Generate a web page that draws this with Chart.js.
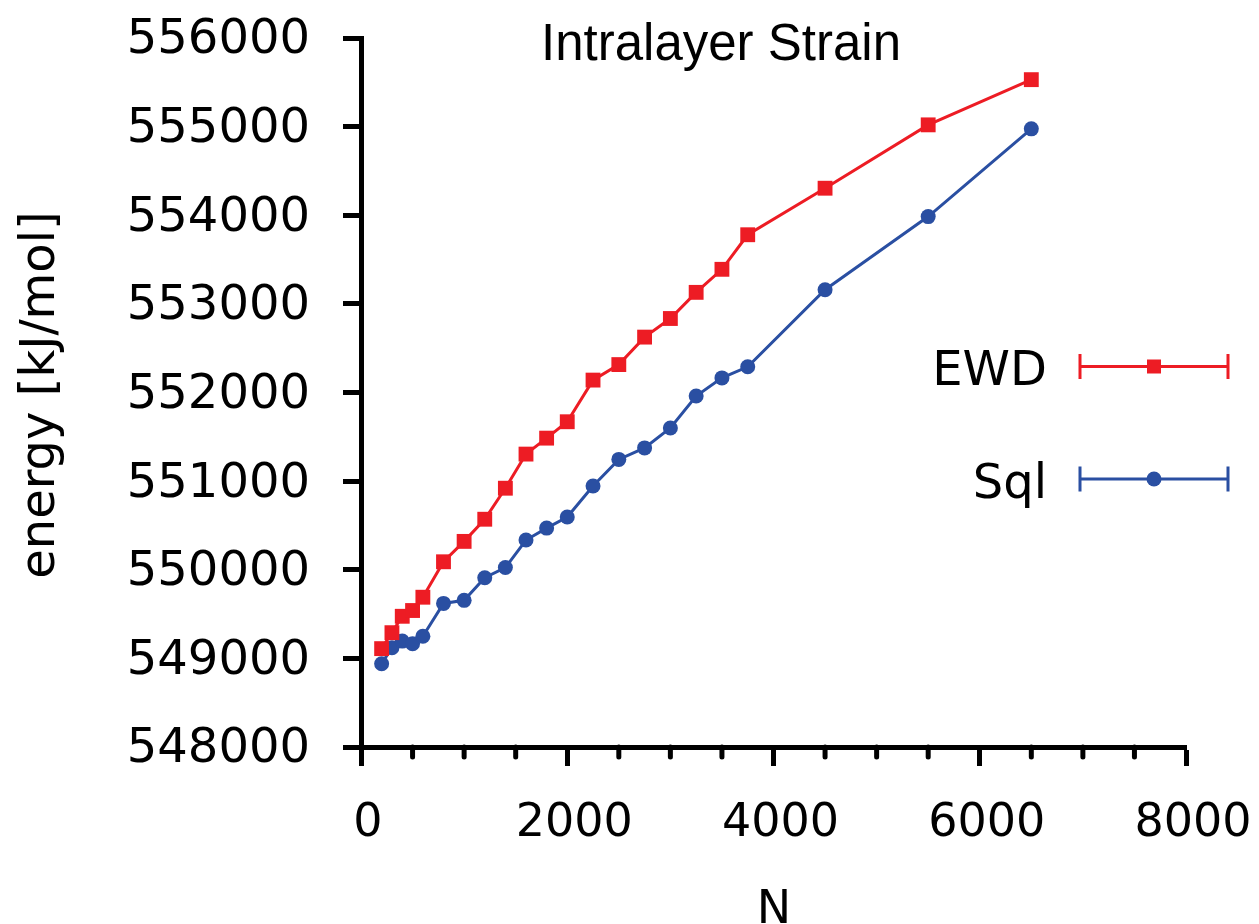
<!DOCTYPE html>
<html>
<head>
<meta charset="utf-8">
<title>Intralayer Strain</title>
<script src="https://cdn.jsdelivr.net/npm/chart.js@4.4.1/dist/chart.umd.min.js"></script>
<style>
  html, body { margin: 0; padding: 0; background: #fff; }
  #wrap { width: 1259px; height: 924px; }
</style>
</head>
<body>
<div id="wrap"><canvas id="strainChart" width="1259" height="924"></canvas></div>
<script>
// system size N and intralayer strain energy for the two methods
const nValues = [200, 300, 400, 500, 600, 800, 1000, 1200, 1400, 1600, 1800, 2000,
  2250, 2500, 2750, 3000, 3250, 3500, 3750, 4500, 5500, 6500];
const ewdEnergy = [549110, 549290, 549475, 549540, 549690, 550090, 550320, 550570,
  550920, 551305, 551485, 551670, 552140, 552315, 552625, 552835, 553130, 553390,
  553780, 554305, 555020, 555530];
const sqlEnergy = [548940, 549120, 549195, 549165, 549250, 549620, 549655, 549910,
  550025, 550335, 550470, 550595, 550945, 551245, 551375, 551600, 551960, 552165,
  552290, 553160, 553985, 554975];

const xRange = [0, 8000];
const yRange = [548000, 556000];
const xMajorStep = 2000;
const xMinorStep = 500;
const yStep = 1000;

const red = "#ed1c24";
const blue = "#2a4fa2";

const toPoints = (ys) => nValues.map((n, i) => ({ x: n, y: ys[i] }));

// keep the plot box fixed, no extra room for overhanging tick labels
const fixBox = (size) => (scale) => {
  if (scale.isHorizontal()) scale.height = size;
  else scale.width = size;
  scale.paddingLeft = 0;
  scale.paddingRight = 0;
  scale.paddingTop = 0;
  scale.paddingBottom = 0;
};

// minor ticks, titles and the error-bar style legend
const decorPlugin = {
  id: "decor",
  afterDraw(chart) {
    const ctx = chart.ctx;
    const x = chart.scales.x;
    const area = chart.chartArea;

    ctx.save();
    ctx.strokeStyle = "#000";
    ctx.lineWidth = 5;
    ctx.lineCap = "round";
    for (let v = xRange[0] + xMinorStep; v < xRange[1]; v += xMinorStep) {
      if (v % xMajorStep === 0) continue;
      const px = x.getPixelForValue(v);
      ctx.beginPath();
      ctx.moveTo(px, area.bottom);
      ctx.lineTo(px, area.bottom + 10);
      ctx.stroke();
    }

    ctx.fillStyle = "#000";
    ctx.textAlign = "center";
    ctx.textBaseline = "alphabetic";
    ctx.font = "51px 'Liberation Sans'";
    ctx.fillText("Intralayer Strain", 721, 60);

    ctx.font = "46px 'DejaVu Sans'";
    ctx.fillText("N", 774, 923);

    ctx.save();
    ctx.translate(42, 395);
    ctx.rotate(-Math.PI / 2);
    ctx.textBaseline = "middle";
    ctx.font = "48px 'DejaVu Sans'";
    ctx.fillText("energy [kJ/mol]", 0, 0);
    ctx.restore();

    // legend
    const rows = [366.5, 479];
    chart.data.datasets.forEach((ds, i) => {
      const y = rows[i];
      ctx.font = "48px 'DejaVu Sans'";
      ctx.textAlign = "right";
      ctx.textBaseline = "alphabetic";
      ctx.fillStyle = "#000";
      ctx.fillText(ds.label, 1047, y + 18.5);

      ctx.strokeStyle = ds.borderColor;
      ctx.lineWidth = 3;
      ctx.lineCap = "butt";
      ctx.beginPath();
      ctx.moveTo(1080, y);
      ctx.lineTo(1228, y);
      ctx.moveTo(1080, y - 12.5);
      ctx.lineTo(1080, y + 12.5);
      ctx.moveTo(1228, y - 12.5);
      ctx.lineTo(1228, y + 12.5);
      ctx.stroke();

      ctx.fillStyle = ds.backgroundColor;
      ctx.beginPath();
      if (ds.pointStyle === "rect") {
        ctx.rect(1154 - 7, y - 7, 14, 14);
      } else {
        ctx.arc(1154, y, 7.5, 0, Math.PI * 2);
      }
      ctx.fill();
    });
    ctx.restore();
  },
};

const ctx = document.querySelector("#strainChart").getContext("2d");
new Chart(ctx, {
  type: "line",
  data: {
    datasets: [
      {
        label: "EWD",
        data: toPoints(ewdEnergy),
        borderColor: red,
        backgroundColor: red,
        borderWidth: 3,
        pointStyle: "rect",
        pointRadius: 10.5,
        pointBorderWidth: 0,
        tension: 0,
      },
      {
        label: "Sql",
        data: toPoints(sqlEnergy),
        borderColor: blue,
        backgroundColor: blue,
        borderWidth: 3,
        pointStyle: "circle",
        pointRadius: 7.5,
        pointBorderWidth: 0,
        tension: 0,
      },
    ],
  },
  options: {
    responsive: false,
    animation: false,
    devicePixelRatio: 1,
    layout: { padding: { left: 0, top: 38, right: 73, bottom: 0 } },
    plugins: {
      legend: { display: false },
      title: { display: false },
      tooltip: { enabled: false },
    },
    scales: {
      x: {
        type: "linear",
        min: xRange[0],
        max: xRange[1],
        afterFit: fixBox(177),
        ticks: {
          stepSize: xMajorStep,
          color: "#000",
          font: { family: "DejaVu Sans", size: 46 },
          padding: 30,
          labelOffset: 7,
          maxRotation: 0,
          callback: (v) => String(v),
        },
        grid: {
          drawOnChartArea: false,
          drawTicks: true,
          tickLength: 19,
          tickWidth: 5,
          tickColor: "#000",
        },
        border: { display: true, color: "#000", width: 5 },
      },
      y: {
        min: yRange[0],
        max: yRange[1],
        afterFit: fixBox(361),
        ticks: {
          stepSize: yStep,
          color: "#000",
          font: { family: "DejaVu Sans", size: 48 },
          padding: 33,
          labelOffset: 3,
          callback: (v) => String(v),
        },
        grid: {
          drawOnChartArea: false,
          drawTicks: true,
          tickLength: 18,
          tickWidth: 5,
          tickColor: "#000",
        },
        border: { display: true, color: "#000", width: 5 },
      },
    },
  },
  plugins: [decorPlugin],
});
</script>
</body>
</html>
